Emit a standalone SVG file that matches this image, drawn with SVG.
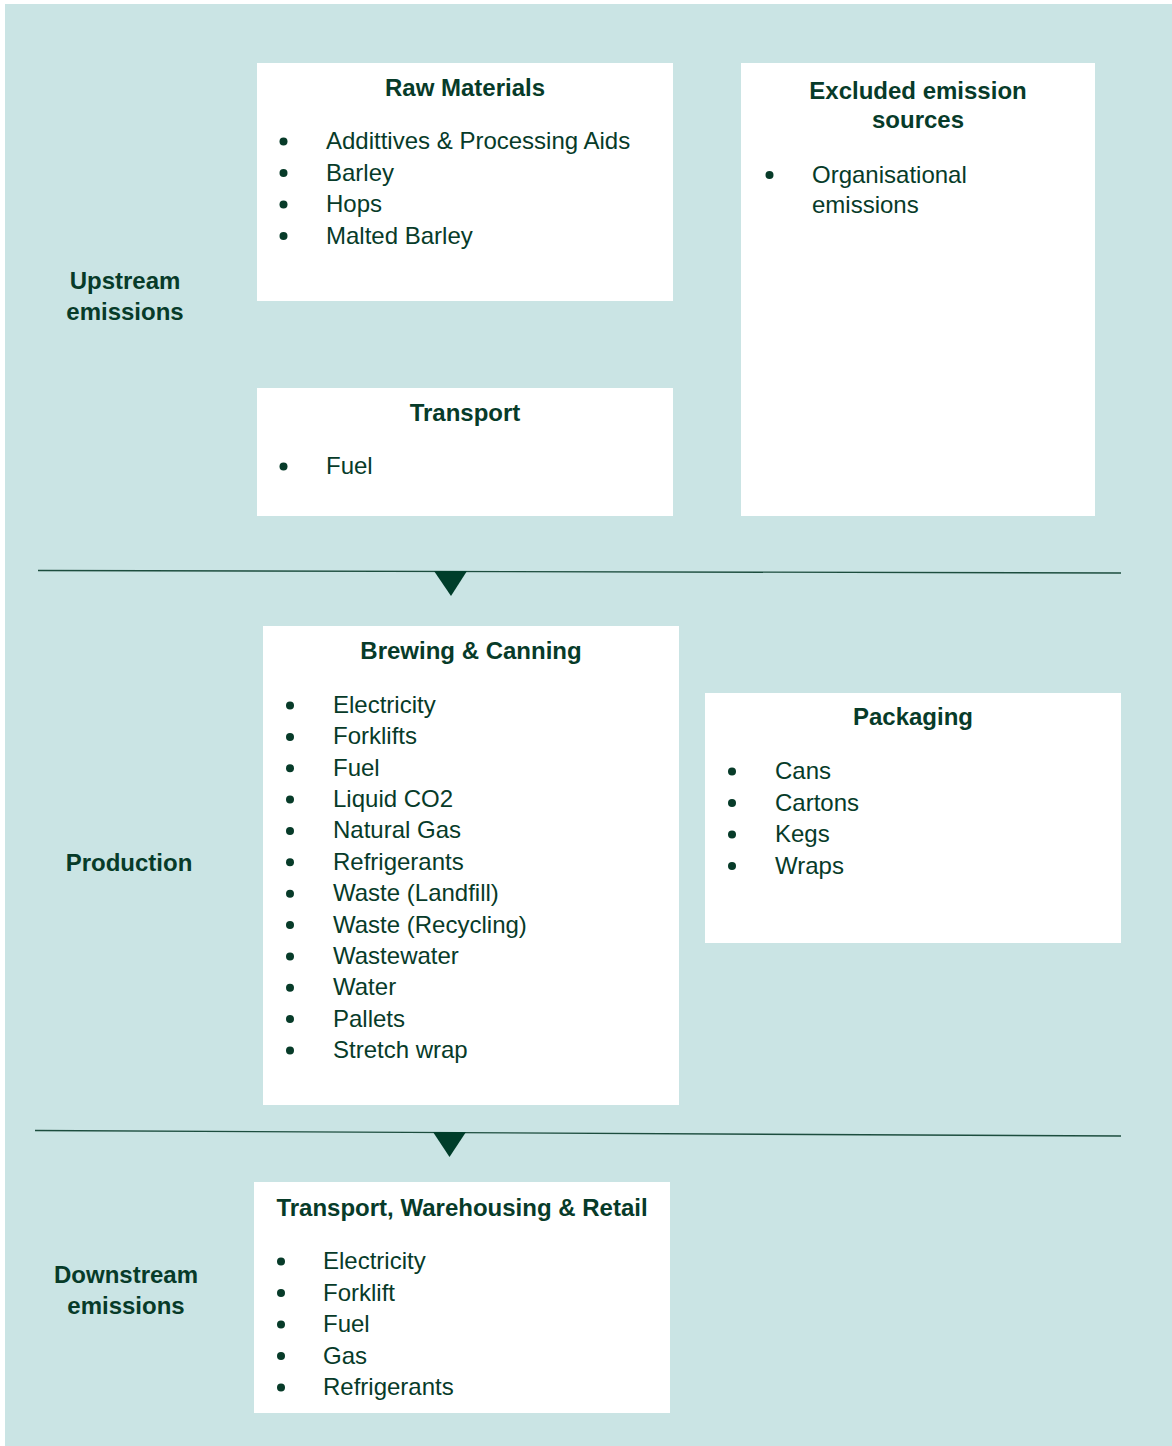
<svg xmlns="http://www.w3.org/2000/svg" width="1172" height="1446" viewBox="0 0 1172 1446">
<style>
.box{fill:#ffffff;}
.t{font-family:"Liberation Sans",Arial,sans-serif;font-size:24px;font-weight:bold;fill:#073b29;text-anchor:middle;}
.i{font-family:"Liberation Sans",Arial,sans-serif;font-size:24px;fill:#073b29;}
.b{fill:#073b29;}
.sep{stroke:#1c4d3e;stroke-width:1.4;fill:none;}
.tri{fill:#003d2a;}
</style>
<rect x="5" y="4" width="1167" height="1442" fill="#cae4e4"/>
<g id="label-upstream">
<text class="t" x="125" y="289">Upstream</text>
<text class="t" x="125" y="320">emissions</text>
</g>
<g id="label-production">
<text class="t" x="129" y="871">Production</text>
</g>
<g id="label-downstream">
<text class="t" x="126" y="1283">Downstream</text>
<text class="t" x="126" y="1314">emissions</text>
</g>
<g id="raw-materials">
<rect class="box" x="257" y="63" width="416" height="238"/>
<text class="t" x="465" y="96">Raw Materials</text>
<circle class="b" cx="283.5" cy="141.5" r="4"/><text class="i" x="326" y="149">Addittives &amp; Processing Aids</text>
<circle class="b" cx="283.5" cy="173" r="4"/><text class="i" x="326" y="180.5">Barley</text>
<circle class="b" cx="283.5" cy="204.5" r="4"/><text class="i" x="326" y="212">Hops</text>
<circle class="b" cx="283.5" cy="236" r="4"/><text class="i" x="326" y="243.5">Malted Barley</text>
</g>
<g id="transport">
<rect class="box" x="257" y="388" width="416" height="128"/>
<text class="t" x="465" y="421">Transport</text>
<circle class="b" cx="283.5" cy="466.5" r="4"/><text class="i" x="326" y="474">Fuel</text>
</g>
<g id="excluded">
<rect class="box" x="741" y="63" width="354" height="453"/>
<text class="t" x="918" y="99">Excluded emission</text>
<text class="t" x="918" y="128">sources</text>
<circle class="b" cx="769.5" cy="175" r="4"/><text class="i" x="812" y="182.5">Organisational</text>
<text class="i" x="812" y="212.5">emissions</text>
</g>
<g id="brewing">
<rect class="box" x="263" y="626" width="416" height="479"/>
<text class="t" x="471" y="659">Brewing &amp; Canning</text>
<circle class="b" cx="290" cy="705.5" r="4"/><text class="i" x="333" y="713">Electricity</text>
<circle class="b" cx="290" cy="736.9" r="4"/><text class="i" x="333" y="744.4">Forklifts</text>
<circle class="b" cx="290" cy="768.2" r="4"/><text class="i" x="333" y="775.7">Fuel</text>
<circle class="b" cx="290" cy="799.6" r="4"/><text class="i" x="333" y="807.1">Liquid CO2</text>
<circle class="b" cx="290" cy="830.9" r="4"/><text class="i" x="333" y="838.4">Natural Gas</text>
<circle class="b" cx="290" cy="862.3" r="4"/><text class="i" x="333" y="869.8">Refrigerants</text>
<circle class="b" cx="290" cy="893.7" r="4"/><text class="i" x="333" y="901.2">Waste (Landfill)</text>
<circle class="b" cx="290" cy="925" r="4"/><text class="i" x="333" y="932.5">Waste (Recycling)</text>
<circle class="b" cx="290" cy="956.4" r="4"/><text class="i" x="333" y="963.9">Wastewater</text>
<circle class="b" cx="290" cy="987.7" r="4"/><text class="i" x="333" y="995.2">Water</text>
<circle class="b" cx="290" cy="1019.1" r="4"/><text class="i" x="333" y="1026.6">Pallets</text>
<circle class="b" cx="290" cy="1050.4" r="4"/><text class="i" x="333" y="1057.9">Stretch wrap</text>
</g>
<g id="packaging">
<rect class="box" x="705" y="693" width="416" height="250"/>
<text class="t" x="913" y="725">Packaging</text>
<circle class="b" cx="732" cy="771.5" r="4"/><text class="i" x="775" y="779">Cans</text>
<circle class="b" cx="732" cy="803" r="4"/><text class="i" x="775" y="810.5">Cartons</text>
<circle class="b" cx="732" cy="834.5" r="4"/><text class="i" x="775" y="842">Kegs</text>
<circle class="b" cx="732" cy="866" r="4"/><text class="i" x="775" y="873.5">Wraps</text>
</g>
<g id="downstream-box">
<rect class="box" x="254" y="1182" width="416" height="231"/>
<text class="t" x="462" y="1216">Transport, Warehousing &amp; Retail</text>
<circle class="b" cx="281" cy="1261.5" r="4"/><text class="i" x="323" y="1269">Electricity</text>
<circle class="b" cx="281" cy="1293" r="4"/><text class="i" x="323" y="1300.5">Forklift</text>
<circle class="b" cx="281" cy="1324.5" r="4"/><text class="i" x="323" y="1332">Fuel</text>
<circle class="b" cx="281" cy="1356" r="4"/><text class="i" x="323" y="1363.5">Gas</text>
<circle class="b" cx="281" cy="1387.5" r="4"/><text class="i" x="323" y="1395">Refrigerants</text>
</g>
<g id="connectors">
<line class="sep" x1="38" y1="570.5" x2="1121" y2="573"/>
<polygon class="tri" points="434,571 467,571 451,596"/>
<line class="sep" x1="35" y1="1130.5" x2="1121" y2="1136"/>
<polygon class="tri" points="433,1132 466,1132 449.5,1157"/>
</g>
</svg>
